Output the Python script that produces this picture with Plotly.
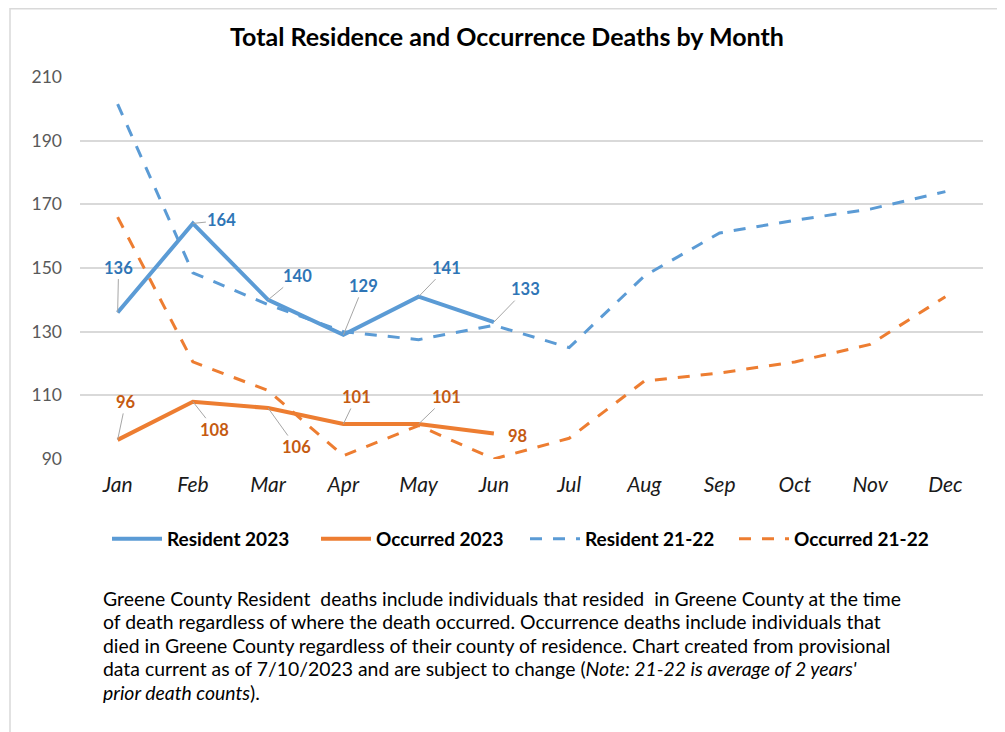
import plotly.graph_objects as go

months = ["Jan", "Feb", "Mar", "Apr", "May", "Jun", "Jul", "Aug", "Sep", "Oct", "Nov", "Dec"]
resident_2023 = [136, 164, 140, 129, 141, 133]
occurred_2023 = [96, 108, 106, 101, 101, 98]
resident_2122 = [201.5, 148.5, 138.5, 130, 127.5, 132, 125, 147.5, 161, 165, 168.5, 174]
occurred_2122 = [166, 120.5, 111.5, 91, 100.5, 90, 96.5, 114.5, 117, 120.5, 126, 141]
y_ticks = [90, 110, 130, 150, 170, 190, 210]

# label offsets (pixels) for the 2023 data labels
res_offsets = [(1, -45), (29, -3), (29, -24), (20, -49), (28, -29), (32, -33)]
occ_offsets = [(8, -38), (22, 28), (28, 39), (13, -27), (28, -27), (24, 2)]

BLUE = "#5B9BD5"
ORANGE = "#ED7D31"
BLUE_TXT = "#2E75B6"
ORANGE_TXT = "#C55A11"
FONT = "Lato"

W, H = 1005, 732
OFF = 8  # page body margin
# plot area in screen pixels
SX0, SX1, SY0, SY1 = 80, 983, 77, 459
L, R, T, B = SX0 - OFF, W - (SX1 - OFF), SY0 - OFF, H - (SY1 - OFF)
pw, ph = W - L - R, H - T - B


def px(xs):
    return (xs - OFF - L) / pw


def py(ys):
    return (H - B - (ys - OFF)) / ph


fig = go.Figure()
fig.add_trace(go.Scatter(x=months, y=resident_2122, name="Resident 21-22", mode="lines",
                         line=dict(color=BLUE, width=3, dash="12px,11px"), legendrank=3))
fig.add_trace(go.Scatter(x=months, y=occurred_2122, name="Occurred 21-22", mode="lines",
                         line=dict(color=ORANGE, width=3, dash="12px,11px"), legendrank=4))
fig.add_trace(go.Scatter(x=months[:len(resident_2023)], y=resident_2023, name="Resident 2023",
                         mode="lines", line=dict(color=BLUE, width=4), legendrank=1))
fig.add_trace(go.Scatter(x=months[:len(occurred_2023)], y=occurred_2023, name="Occurred 2023",
                         mode="lines", line=dict(color=ORANGE, width=4), legendrank=2))

annotations = []
for vals, offs, col in ((resident_2023, res_offsets, BLUE_TXT), (occurred_2023, occ_offsets, ORANGE_TXT)):
    for i, v in enumerate(vals):
        ax, ay = offs[i]
        near = abs(ax) < 26 and abs(ay) < 6
        a = dict(x=months[i], y=v, xref="x", yref="y", text=f"<b>{v}</b>",
                 font=dict(family=FONT, size=16.5, color=col))
        if near:
            a.update(showarrow=False, xshift=ax, yshift=-ay)
        else:
            a.update(showarrow=True, ax=ax, ay=ay, axref="pixel", ayref="pixel",
                     arrowhead=0, arrowwidth=1, arrowcolor="#A6A6A6", standoff=0)
        annotations.append(a)

# footnote lines
foot = [
    "Greene County Resident  deaths include individuals that resided  in Greene County at the time",
    "of death regardless of where the death occurred. Occurrence deaths include individuals that",
    "died in Greene County regardless of their county of residence. Chart created from provisional",
    "data current as of 7/10/2023 and are subject to change (<i>Note: 21-22 is average of 2 years'</i>",
    "<i>prior death counts</i>).",
]
for k, line in enumerate(foot):
    annotations.append(dict(xref="paper", yref="paper", x=px(101), y=py(598 + k * 23.5),
                            xanchor="left", yanchor="middle", showarrow=False, text=line,
                            font=dict(family=FONT, size=19.4, color="#000000")))

shapes = [dict(type="rect", xref="paper", yref="paper", x0=px(10), x1=px(1003), y0=py(8.8), y1=py(780),
               line=dict(color="#D9D9D9", width=1.5), fillcolor="rgba(0,0,0,0)", layer="below")]

fig.update_layout(
    width=W, height=H,
    margin=dict(l=L, r=R, t=T, b=B),
    paper_bgcolor="white", plot_bgcolor="white",
    title=dict(text="<b>Total Residence and Occurrence Deaths by Month</b>",
               x=(507 - OFF) / W, xanchor="center", y=1 - (37 - OFF) / H, yanchor="middle",
               font=dict(family=FONT, size=25, color="#000000")),
    xaxis=dict(type="category", range=[-0.5, 11.5], showgrid=False, zeroline=False,
               showline=False, ticks="", ticklabelstandoff=11,
               tickfont=dict(family=FONT, size=21, color="#1A1A1A", style="italic")),
    yaxis=dict(range=[90, 210], tickvals=y_ticks, showgrid=True, gridcolor="#D9D9D9",
               gridwidth=1.5, zeroline=False, showline=False, ticks="", ticklabelstandoff=17,
               tickfont=dict(family=FONT, size=17.5, color="#595959")),
    showlegend=True,
    legend=dict(orientation="h", x=px(107), xanchor="left", y=py(539), yanchor="middle",
                font=dict(family=FONT, size=19, color="#000000", weight="bold"),
                itemwidth=50, entrywidth=144, bgcolor="rgba(0,0,0,0)", traceorder="normal"),
    annotations=annotations,
    shapes=shapes,
    hovermode=False,
)

fig.write_html("out.html")
